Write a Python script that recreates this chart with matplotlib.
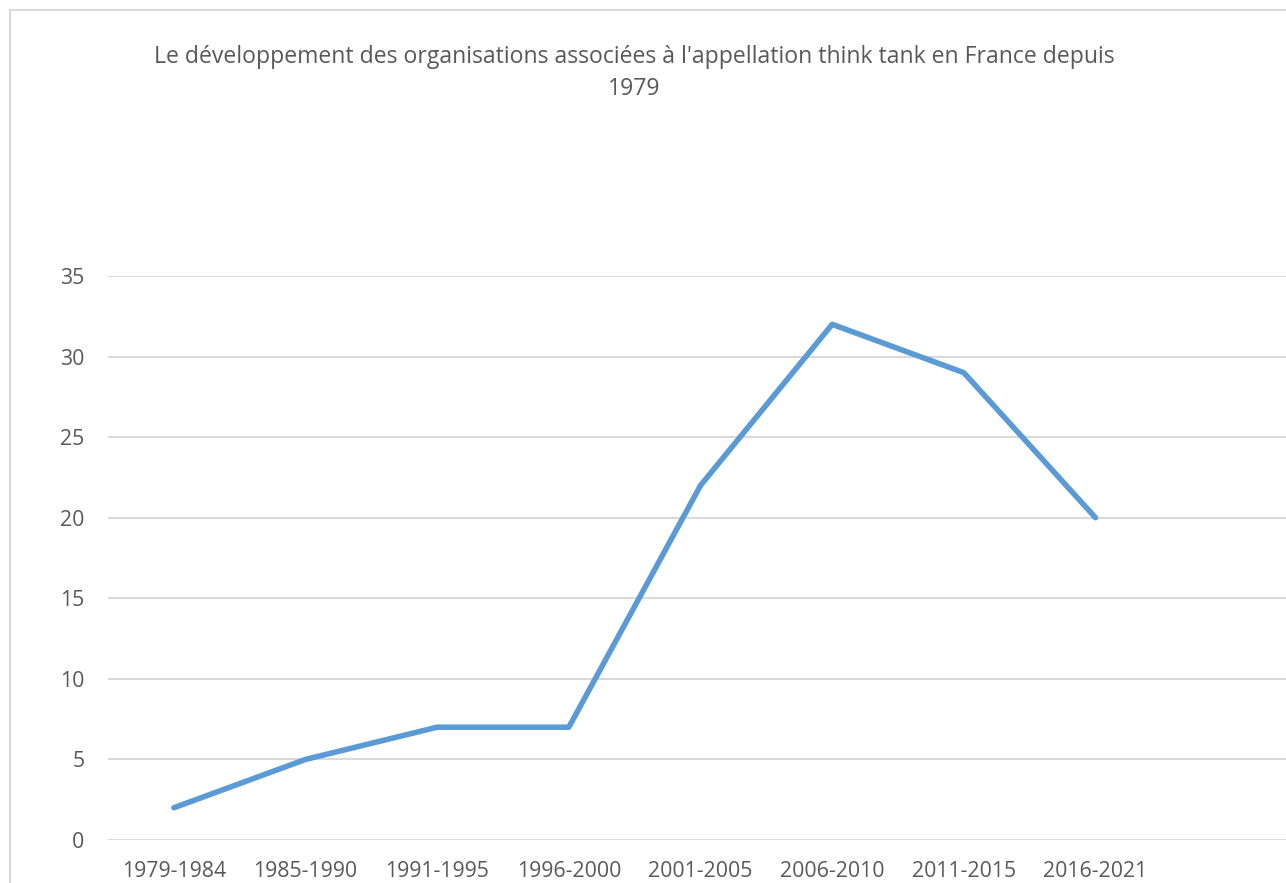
import matplotlib
matplotlib.use("Agg")
import matplotlib.pyplot as plt
from matplotlib.lines import Line2D

# Données
periodes = ["1979-1984", "1985-1990", "1991-1995", "1996-2000",
            "2001-2005", "2006-2010", "2011-2015", "2016-2021"]
nombre = [2, 5, 7, 7, 22, 32, 29, 20]
y_ticks = [0, 5, 10, 15, 20, 25, 30, 35]

titre = ("Le développement des organisations associées à l'appellation think tank en France depuis\n"
         "1979")

gris_texte = "#595959"
gris_grille = "#D9D9D9"
bleu = "#5B9BD5"

plt.rcParams['font.family'] = ['Open Sans', 'DejaVu Sans']

fig = plt.figure(figsize=(12.86, 8.83), dpi=100, facecolor="white")

# cadre du graphique (coupé à droite et en bas)
W, H = 1286, 883
fig.add_artist(Line2D([9.5 / W, 9.5 / W], [0, 1 - 9.5 / H], transform=fig.transFigure,
                      color=gris_grille, lw=1.5))
fig.add_artist(Line2D([9.5 / W, 1], [1 - 9.5 / H, 1 - 9.5 / H], transform=fig.transFigure,
                      color=gris_grille, lw=1.5))

left = 108 / W
right = 1293 / W
bottom = (H - 840) / H
top = (H - 276) / H
ax = fig.add_axes([left, bottom, right - left, top - bottom])

x = list(range(len(periodes)))
ax.plot(x, nombre, color=bleu, lw=4, solid_capstyle="round", solid_joinstyle="round",
        zorder=3)

ax.set_xlim(-0.5, 8.5)
ax.set_ylim(0, 35)
ax.set_yticks(y_ticks)
ax.set_xticks(x)
ax.set_xticklabels(periodes)

for s in ax.spines.values():
    s.set_visible(False)
ax.grid(axis="y", color=gris_grille, lw=1.5, zorder=0)
ax.set_axisbelow(True)
ax.tick_params(axis="both", length=0, labelsize=15.3, labelcolor=gris_texte)
ax.tick_params(axis="y", pad=17)
ax.tick_params(axis="x", pad=15)

fig.text(634 / W, 1 - 45 / H, titre, ha="center", va="top", fontsize=16.6,
         color=gris_texte, linespacing=1.45)

fig.savefig("out.png", dpi=100, facecolor="white")
